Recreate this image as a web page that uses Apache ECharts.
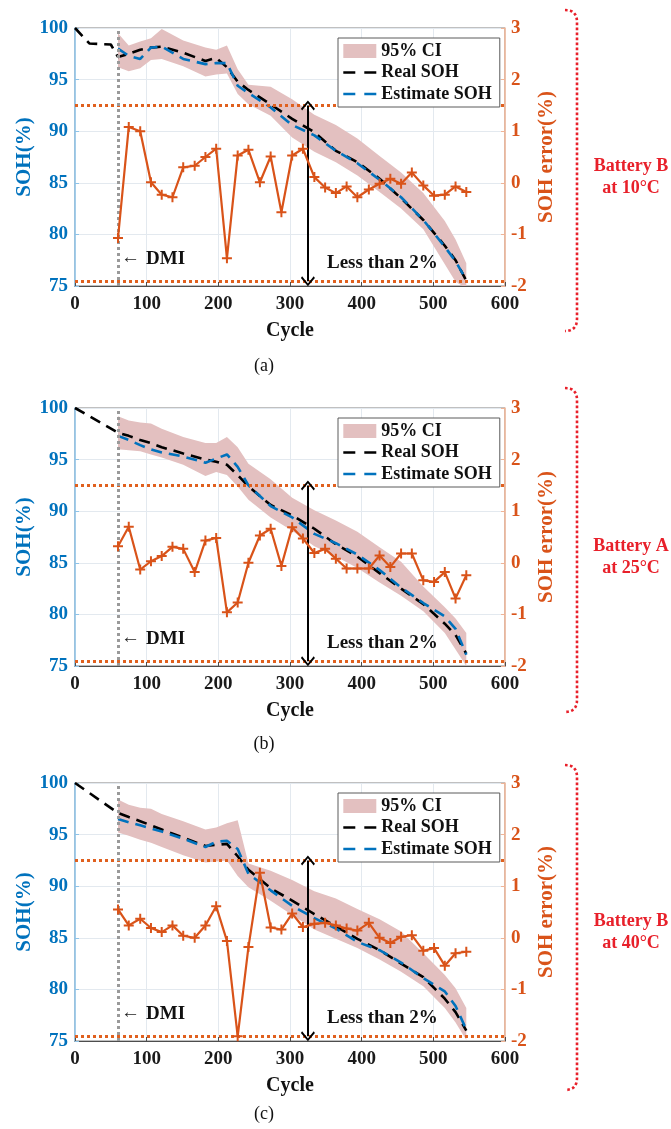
<!DOCTYPE html>
<html><head><meta charset="utf-8">
<script src="https://cdn.jsdelivr.net/npm/echarts@6/dist/echarts.min.js"></script>
<style>html,body{margin:0;padding:0;background:#fff}#chart{width:671px;height:1129px}</style>
</head><body><div id="chart"></div>
<script>
// ---------- DATA ----------
// cycles where the SOH error was sampled (orange "+" markers)
const errCycles = [60,75,91,106,121,136,151,167,182,197,212,227,242,258,273,288,303,318,334,349,364,379,394,410,425,440,455,470,486,501,516,531,546];
// cycles used for estimate / CI curves
const sohCycles = [60,75,91,106,121,151,182,197,212,227,242,273,303,334,364,394,425,455,486,516,531,546];

// Panel (a) Battery B at 10°C
const realCycA = [0,20,50,60,75,91,106,121,151,182,197,212,227,242,273,303,334,364,394,425,455,486,516,531,546];
const realA = [100,98.5,98.4,97.2,97.5,97.9,98.1,98.2,97.6,96.8,97.1,96.2,94.8,94.0,92.6,91.2,89.9,88.1,87.0,85.4,83.5,81.4,78.9,77.5,75.5];
const estA  = [98.0,97.3,97.0,98.1,98.2,97.0,96.5,96.6,96.6,94.4,93.7,92.3,90.6,89.6,88.1,86.9,85.3,83.6,81.4,78.8,77.4,75.6];
const upA   = [99.5,98.3,98.7,99.0,99.9,98.8,98.1,97.9,98.3,96.0,94.5,94.3,93.1,91.6,90.6,89.3,87.6,86.0,84.0,81.3,79.5,77.2];
const loA   = [96.2,95.8,96.1,96.9,97.0,96.3,95.3,95.5,95.6,93.6,92.6,91.5,89.4,88.0,87.0,85.7,84.1,82.5,80.5,77.1,75.4,74.8];
const errA  = [-1.07,1.08,1.0,0.01,-0.23,-0.28,0.3,0.33,0.5,0.66,-1.46,0.53,0.64,0.01,0.51,-0.57,0.53,0.66,0.11,-0.09,-0.2,-0.07,-0.28,-0.13,-0.02,0.08,-0.02,0.2,-0.05,-0.25,-0.23,-0.07,-0.18];

// Panel (b) Battery A at 25°C
const realCycB = [0,60,75,91,106,121,151,182,197,212,227,242,273,303,334,364,394,425,455,486,516,531,546];
const realB = [100,97.6,97.3,96.9,96.6,96.2,95.6,95.0,94.8,94.5,93.5,92.4,90.6,89.6,88.3,86.8,85.6,84.0,82.5,81.0,79.1,78.0,76.2];
const estB  = [97.3,96.9,96.4,96.0,95.7,95.3,94.7,95.1,95.5,94.3,92.5,90.5,89.4,87.8,86.9,85.8,84.3,82.6,81.1,79.8,78.6,76.1];
const upB   = [99.2,98.8,98.6,98.5,98.0,97.2,96.6,96.6,97.2,96.2,94.6,93.1,91.3,90.1,89.1,88.0,86.5,85.1,82.7,80.7,79.6,78.2];
const loB   = [96.0,95.9,95.8,95.5,95.2,94.5,93.4,93.8,93.5,92.4,91.1,89.4,88.1,86.6,85.6,84.5,83.1,81.8,80.3,78.2,76.6,75.0];
const errB  = [0.32,0.70,-0.13,0.03,0.13,0.31,0.27,-0.18,0.43,0.48,-0.96,-0.77,0.0,0.53,0.66,-0.06,0.69,0.47,0.19,0.27,0.08,-0.11,-0.11,-0.11,0.14,-0.08,0.18,0.18,-0.34,-0.37,-0.18,-0.69,-0.24];

// Panel (c) Battery B at 40°C
const realCycC = [0,60,75,91,106,121,151,182,197,212,227,242,273,303,334,364,394,425,455,486,516,531,546];
const realC = [100,97.1,96.7,96.3,95.9,95.5,94.7,93.9,94.0,94.1,92.9,91.6,89.8,88.6,87.3,86.1,84.9,83.8,82.5,81.2,79.1,77.8,76.0];
const estC  = [96.5,96.2,95.9,95.6,95.3,94.6,93.8,94.3,94.4,93.6,91.2,89.6,88.1,86.9,85.9,84.6,83.8,82.6,81.1,79.8,78.4,76.1];
const upC   = [98.4,97.9,97.6,97.5,97.0,96.3,95.5,95.7,96.1,96.4,92.2,91.5,90.6,89.5,88.8,87.8,86.8,85.6,83.5,81.4,80.1,78.2];
const loC   = [95.2,94.9,94.5,94.2,93.8,93.0,92.3,92.4,92.5,91.0,89.9,88.6,87.2,85.8,84.9,84.0,82.9,81.7,80.3,78.2,76.8,75.1];
const errC  = [0.55,0.24,0.37,0.19,0.11,0.24,0.04,0.0,0.24,0.61,-0.06,-1.91,-0.18,1.26,0.2,0.16,0.47,0.21,0.27,0.29,0.24,0.18,0.14,0.29,0.0,-0.1,0.02,0.05,-0.25,-0.2,-0.54,-0.3,-0.27];

// axis ticks
const cycleTicks = {min:0, max:600, step:100};
const sohTicks = {min:75, max:100, step:5};
const errTicks = {min:-2, max:3, step:1};

// annotations (data units)
const dmiCycle = 60;
const arrowCycle = 325;
const bandTopErr = 1.5;
const bandBottomErr = -1.91;

const batteryLabels = [['Battery B','at 10°C'],['Battery A','at 25°C'],['Battery B','at 40°C']];
const captions = ['(a)','(b)','(c)'];
const legendNames = ['95% CI','Real SOH','Estimate SOH'];

// ---------- CHART ----------
const FONT = "'Liberation Serif','Times New Roman',serif";
const BLUE = '#0072BD', ORANGE = '#D95319', PINK = '#e3c0c0', RED = '#e8202a';
const PLUS = 'path://M-1,-5H1V-1H5V1H1V5H-1V1H-5V-1H-1Z';
const CHEV = 'path://M0,0L7,6.2L5.8,7.4L0,2.2L-5.8,7.4L-7,6.2Z';
const DASH = [11,7];

const panels = [
  {realCyc:realCycA, real:realA, est:estA, up:upA, lo:loA, err:errA},
  {realCyc:realCycB, real:realB, est:estB, up:upB, lo:loB, err:errB},
  {realCyc:realCycC, real:realC, est:estC, up:upC, lo:loC, err:errC}
];
const tops = [28, 408, 783];
const H = 258, L = 75, W = 430;
const captionY = [366, 744, 1114];
const bracket = [[10,331],[388,712],[765,1090]];

const zip = (xs, ys) => xs.map((x, i) => [x, ys[i]]);
const grids = [], xAxes = [], yAxes = [], series = [], legends = [], graphics = [];

// bracket shape ")" as a polyline (layout decoration)
function bracketPoints(b0, b1) {
  const pts = [];
  const r = 12, xl = 565, xr = 577;
  for (let k = 0; k <= 8; k++) { const t = k / 8; pts.push([xl + (xr - xl) * (1 - (1 - t) * (1 - t)), b0 + r * t * t]); }
  for (let k = 0; k <= 8; k++) { const t = k / 8; pts.push([xr - (xr - xl) * t * t, b1 - r + r * (1 - (1 - t) * (1 - t))]); }
  return pts;
}

panels.forEach((p, gi) => {
  const top = tops[gi];
  grids.push({left:L, width:W, top:top, height:H, show:true, borderColor:'#808080', borderWidth:1, backgroundColor:'rgba(0,0,0,0)'});
  xAxes.push({
    type:'value', gridIndex:gi, min:cycleTicks.min, max:cycleTicks.max, interval:cycleTicks.step,
    name:'Cycle', nameLocation:'middle', nameGap:35, nameMoveOverlap:false,
    nameTextStyle:{fontFamily:FONT, fontWeight:'bold', fontSize:20, color:'#111'},
    axisLine:{show:true, onZero:false, lineStyle:{color:'#4d4d4d'}},
    axisTick:{show:true, inside:true, length:4, lineStyle:{color:'#4d4d4d'}},
    axisLabel:{fontFamily:FONT, fontWeight:'bold', fontSize:19, color:'#1a1a1a', margin:9},
    splitLine:{show:true, lineStyle:{color:'#e3e9ef', width:1}}
  });
  yAxes.push({
    type:'value', gridIndex:gi, position:'left', min:sohTicks.min, max:sohTicks.max, interval:sohTicks.step,
    name:'SOH(%)', nameLocation:'middle', nameGap:40, nameRotate:90, nameMoveOverlap:false,
    nameTextStyle:{fontFamily:FONT, fontWeight:'bold', fontSize:21, color:BLUE},
    axisLine:{show:true, onZero:false, lineStyle:{color:'#8ec3e8', width:1.5}},
    axisTick:{show:true, inside:true, length:4, lineStyle:{color:'#8ec3e8'}},
    axisLabel:{fontFamily:FONT, fontWeight:'bold', fontSize:19, color:BLUE, margin:7},
    splitLine:{show:true, lineStyle:{color:'#e3e9ef', width:1}}
  });
  yAxes.push({
    type:'value', gridIndex:gi, position:'right', min:errTicks.min, max:errTicks.max, interval:errTicks.step,
    name:'SOH error(%)', nameLocation:'middle', nameGap:31, nameRotate:90, nameMoveOverlap:false,
    nameTextStyle:{fontFamily:FONT, fontWeight:'bold', fontSize:21, color:ORANGE},
    axisLine:{show:true, onZero:false, lineStyle:{color:'#f0b496', width:1.5}},
    axisTick:{show:true, inside:true, length:4, lineStyle:{color:'#f0b496'}},
    axisLabel:{fontFamily:FONT, fontWeight:'bold', fontSize:19, color:ORANGE, margin:6},
    splitLine:{show:false}
  });

  // 95% CI band drawn from upper/lower arrays through the axes
  const bandRows = sohCycles.map((c, i) => [c, p.lo[i], p.up[i]]);
  series.push({
    name:legendNames[0], type:'custom', xAxisIndex:gi, yAxisIndex:2*gi, z:1, silent:true,
    itemStyle:{color:PINK},
    encode:{x:0, y:[1,2]},
    data:bandRows,
    renderItem:(params, api) => {
      if (params.dataIndex !== 0) return null;
      const pts = [];
      for (let i = 0; i < sohCycles.length; i++) pts.push(api.coord([sohCycles[i], p.up[i]]));
      for (let i = sohCycles.length - 1; i >= 0; i--) pts.push(api.coord([sohCycles[i], p.lo[i]]));
      const cs = params.coordSys;
      return {type:'polygon', shape:{points:pts}, style:{fill:PINK},
        clipPath:{type:'rect', shape:{x:cs.x, y:cs.y, width:cs.width, height:cs.height}}};
    }
  });
  series.push({
    name:legendNames[1], type:'line', xAxisIndex:gi, yAxisIndex:2*gi, z:3,
    data:zip(p.realCyc, p.real), symbol:'none', showSymbol:false,
    itemStyle:{color:'#000'}, lineStyle:{color:'#000', width:2.6, type:DASH}
  });
  series.push({
    name:legendNames[2], type:'line', xAxisIndex:gi, yAxisIndex:2*gi, z:4,
    data:zip(sohCycles, p.est), symbol:'none', showSymbol:false,
    itemStyle:{color:BLUE}, lineStyle:{color:BLUE, width:2.6, type:DASH}
  });
  series.push({
    name:'SOH error', type:'line', xAxisIndex:gi, yAxisIndex:2*gi+1, z:5,
    data:zip(errCycles, p.err), symbol:PLUS, symbolSize:10, showSymbol:true,
    itemStyle:{color:ORANGE}, lineStyle:{color:ORANGE, width:2.2},
    markLine:{
      silent:true, symbol:['none','none'], label:{show:false}, animation:false,
      lineStyle:{color:'#e0601e', width:3, type:[3,3]},
      data:[
        {yAxis:bandTopErr},
        {yAxis:bandBottomErr},
        {xAxis:dmiCycle, lineStyle:{color:'#9a9a9a', width:3, type:[3,3]}},
        [
          {coord:[arrowCycle, bandTopErr], symbol:CHEV, symbolSize:[14,10], lineStyle:{color:'#000', width:2, type:'solid'}},
          {coord:[arrowCycle, bandBottomErr], symbol:CHEV, symbolSize:[14,10]}
        ]
      ]
    }
  });

  legends.push({
    orient:'vertical', left:338, top:top+10, padding:[4,8,4,4],
    itemWidth:33, itemHeight:14, itemGap:3.5, selectedMode:false,
    backgroundColor:'#fff', borderColor:'#5a5a5a', borderWidth:1, z:10,
    textStyle:{fontFamily:FONT, fontWeight:'bold', fontSize:18, lineHeight:18, color:'#111'},
    data:[
      {name:legendNames[0], icon:'rect', itemStyle:{color:PINK}},
      {name:legendNames[1], itemStyle:{opacity:0}, lineStyle:{color:'#000', width:2.6, type:[12,9]}},
      {name:legendNames[2], itemStyle:{opacity:0}, lineStyle:{color:BLUE, width:2.6, type:[12,9]}}
    ]
  });

  const tf = (sz, bold) => (bold ? 'bold ' : '') + sz + 'px ' + FONT;
  graphics.push({type:'text', x:121, y:top+230, z:20, style:{text:'←', font:tf(19,false), fill:'#222', align:'left', verticalAlign:'middle'}});
  graphics.push({type:'text', x:146, y:top+231, z:20, style:{text:'DMI', font:tf(19,true), fill:'#111', align:'left', verticalAlign:'middle'}});
  graphics.push({type:'text', x:327, y:top+235, z:20, style:{text:'Less than 2%', font:tf(19,true), fill:'#111', align:'left', verticalAlign:'middle'}});
  graphics.push({type:'text', x:631, y:top+138, z:20, style:{text:batteryLabels[gi][0], font:tf(18,true), fill:RED, align:'center', verticalAlign:'middle'}});
  graphics.push({type:'text', x:631, y:top+160, z:20, style:{text:batteryLabels[gi][1], font:tf(18,true), fill:RED, align:'center', verticalAlign:'middle'}});
  graphics.push({type:'text', x:264, y:captionY[gi], z:20, style:{text:captions[gi], font:tf(18,false), fill:'#111', align:'center', verticalAlign:'middle'}});
  const [b0, b1] = bracket[gi];
  graphics.push({type:'polyline', z:20, shape:{points:bracketPoints(b0, b1)},
    style:{stroke:RED, lineWidth:2.6, lineDash:[2.6,2.4], fill:null}});
});

const chart = echarts.init(document.getElementById('chart'), null, {renderer:'canvas'});
chart.setOption({
  animation:false,
  backgroundColor:'#fff',
  grid:grids, xAxis:xAxes, yAxis:yAxes, legend:legends, series:series, graphic:graphics
});
</script></body></html>
